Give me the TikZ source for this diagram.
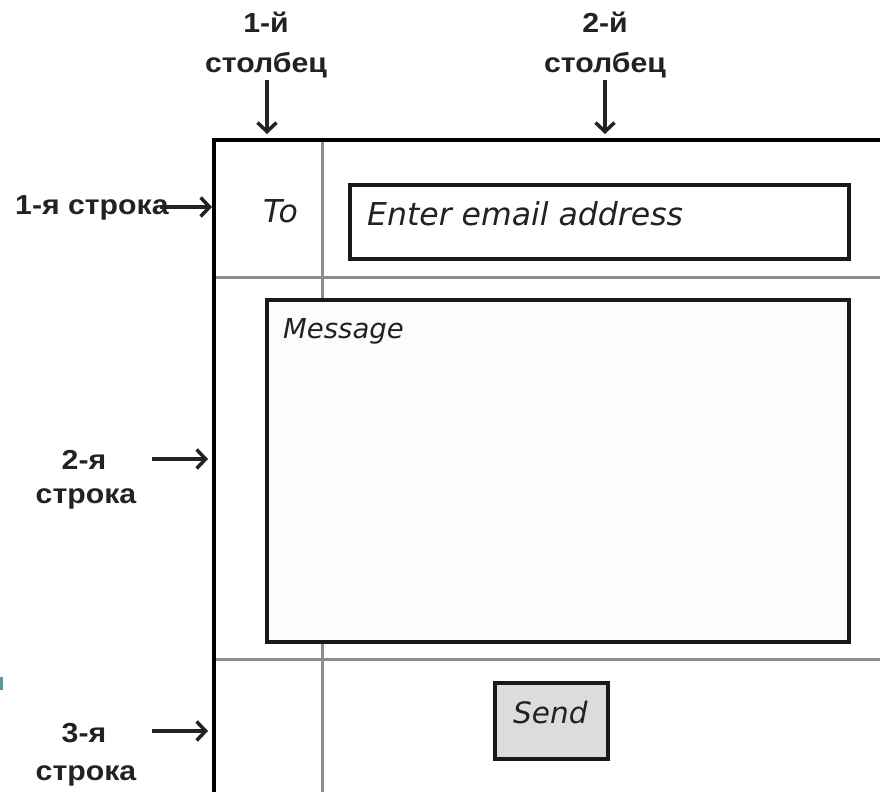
\documentclass[tikz,border=0pt]{standalone}
\usepackage{fontspec}
\setmainfont{Liberation Sans}[FakeStretch=1.1]
\newfontfamily\hand{DejaVu Sans}
\usetikzlibrary{arrows.meta}
\definecolor{gridgrey}{HTML}{8C8C8C}
\definecolor{msgfill}{HTML}{FDFCFA}
\definecolor{btnfill}{HTML}{DCDCDC}
\definecolor{tealmark}{HTML}{5A9A9C}
\definecolor{inkgrey}{HTML}{222222}
\tikzset{
  lbl/.style={font=\bfseries\fontsize{27.5}{27.5}\selectfont, text=inkgrey, anchor=base, inner sep=0pt},
  hw/.style={font=\hand\itshape\fontsize{31.5}{31.5}\selectfont, text=inkgrey, anchor=base west, inner sep=0pt},
  frameline/.style={line width=3.5pt, black},
  gridline/.style={line width=3pt, gridgrey},
  boxline/.style={line width=4pt, black!90},
  pointer/.style={line width=3.5pt, inkgrey, -{Straight Barb[length=9pt,width=19pt,line width=3.5pt]}},
}
\begin{document}
\begin{tikzpicture}[x=1pt,y=-1pt]
\useasboundingbox (0,0) rectangle (880,792);
\fill[white] (0,0) rectangle (880,792);
\fill[tealmark] (0,677) rectangle (3,690);
% grid lines
\draw[gridline] (322,140) -- (322,792);
\draw[gridline] (214,277) -- (880,277);
\draw[gridline] (214,659) -- (880,659);
% frame
\draw[frameline] (214,792) -- (214,140) -- (880,140);
% email box
\node[draw, boxline, fill=white, minimum width=499pt, minimum height=74pt, anchor=north west, inner sep=0pt] (email) at (348,183) {};
% message box
\node[draw, boxline, fill=msgfill, minimum width=582pt, minimum height=342pt, anchor=north west, inner sep=0pt] (msg) at (265,298) {};
% send button
\node[draw, boxline, fill=btnfill, minimum width=113pt, minimum height=76pt, anchor=north west, inner sep=0pt] (send) at (493,681) {};
% handwritten texts
\node[hw] (to) at (263,222) {To};
\node[hw] (enter) at (367,225) {Enter email address};
\node[hw, font=\hand\itshape\fontsize{27.5}{27.5}\selectfont] (message) at (283,338) {Message};
\node[hw, font=\hand\itshape\fontsize{29.5}{29.5}\selectfont] (sendtxt) at (513,723) {Send};
% column labels
\node[lbl] (c1a) at (266,33) {1-й};
\node[lbl] (c1b) at (266,72) {столбец};
\node[lbl] (c2a) at (605,33) {2-й};
\node[lbl] (c2b) at (605,72) {столбец};
\coordinate (c1s) at (267,80);
\coordinate (c1e) at (267,134);
\coordinate (c2s) at (605,80);
\coordinate (c2e) at (605,134);
\draw[pointer] (c1s) -- (c1e);
\draw[pointer] (c2s) -- (c2e);
% row labels
\node[lbl, anchor=base west] (r1) at (15,214) {1-я строка};
\coordinate (r1s) at (160,207);
\coordinate (r1e) at (212,207);
\draw[pointer] (r1s) -- (r1e);
\node[lbl] (r2a) at (84,469) {2-я};
\node[lbl] (r2b) at (86,503) {строка};
\coordinate (r2s) at (152,459);
\coordinate (r2e) at (208,459);
\draw[pointer] (r2s) -- (r2e);
\node[lbl] (r3a) at (84,742) {3-я};
\node[lbl] (r3b) at (86,780) {строка};
\coordinate (r3s) at (152,731);
\coordinate (r3e) at (208,731);
\draw[pointer] (r3s) -- (r3e);
\end{tikzpicture}
\end{document}
